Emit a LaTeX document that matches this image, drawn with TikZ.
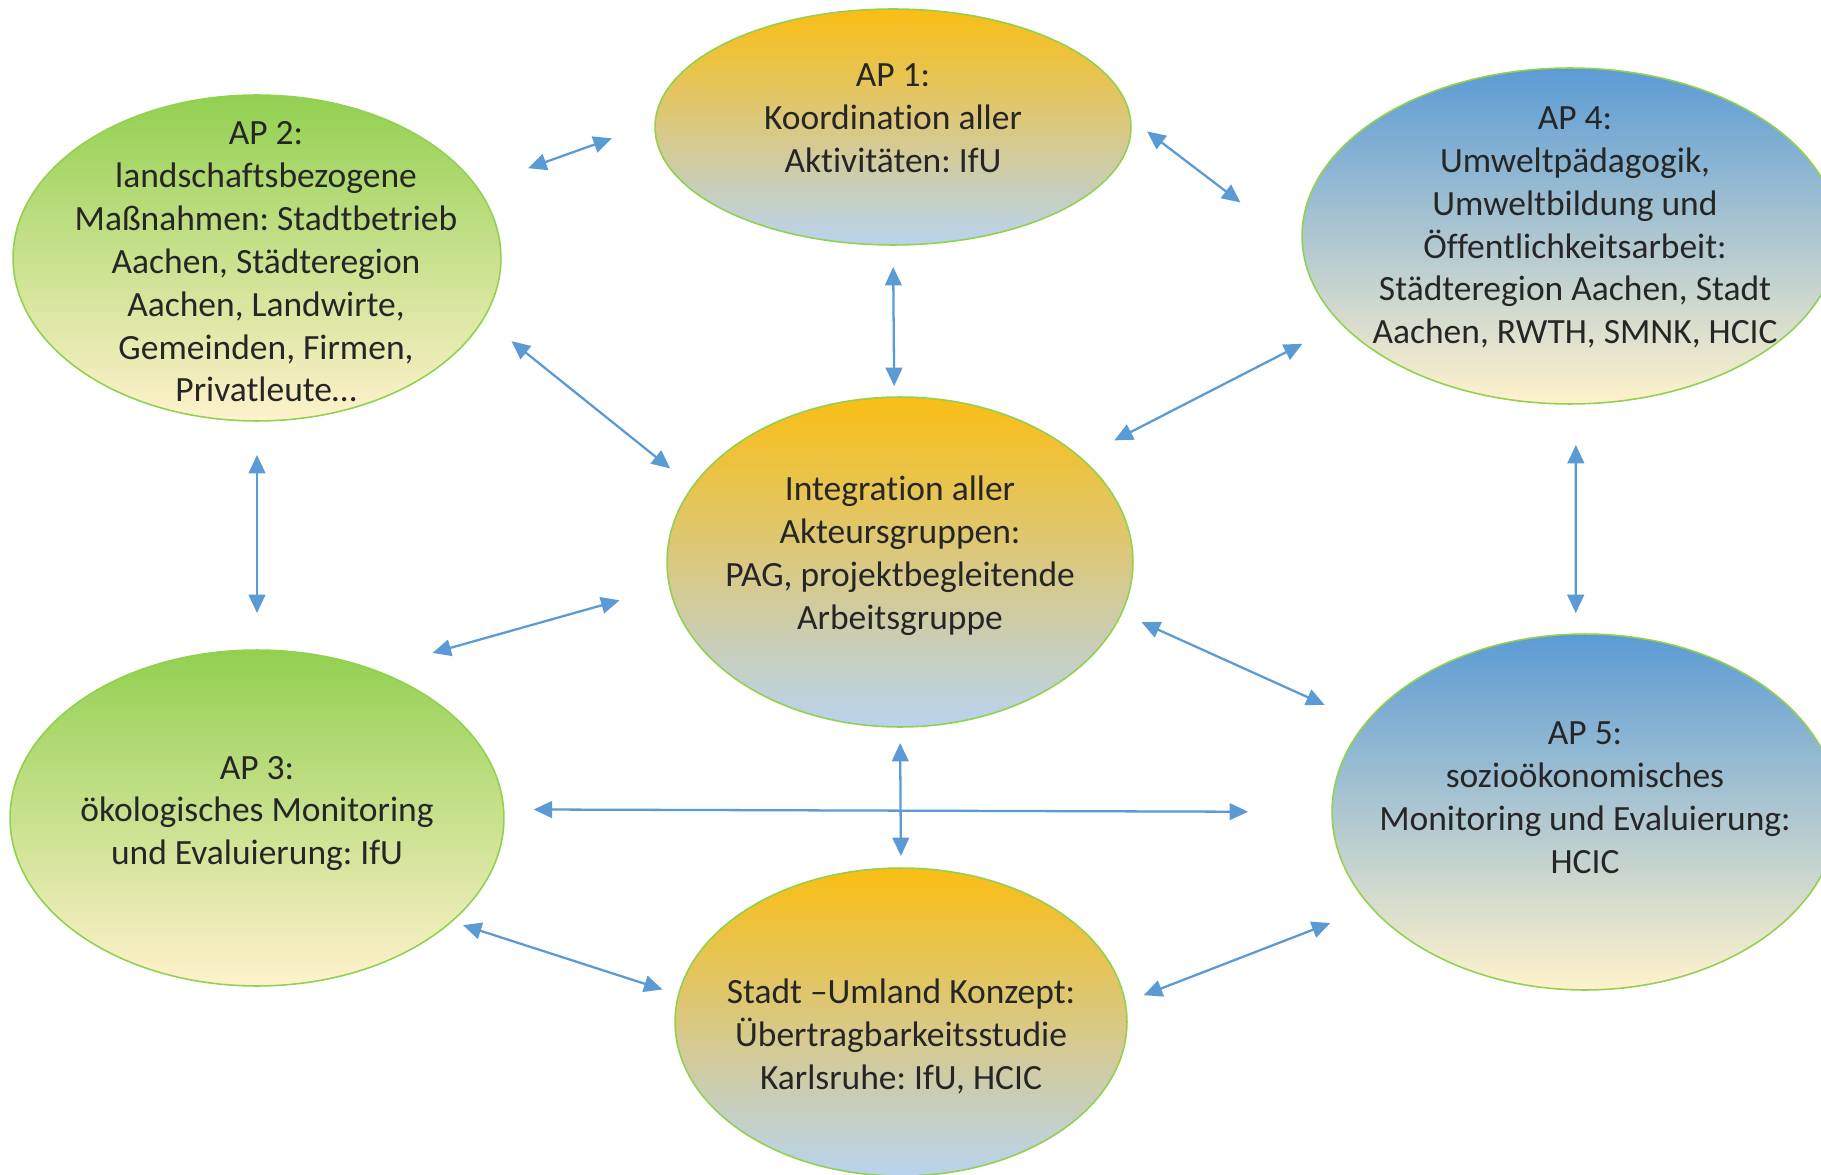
\documentclass[tikz,border=0pt]{standalone}
\usepackage{fontspec}
\setmainfont{Carlito}[Ligatures=NoCommon]
\usepackage{tikz}
\usetikzlibrary{arrows.meta,shapes.geometric}
\definecolor{apgreen}{RGB}{146,208,80}
\definecolor{apgold}{RGB}{250,190,20}
\definecolor{apsky}{RGB}{185,211,238}
\definecolor{apcream}{RGB}{255,242,204}
\definecolor{apblue}{RGB}{91,155,213}
\definecolor{linkblue}{RGB}{91,155,213}
\frenchspacing

\begin{document}
\begin{tikzpicture}[x=0.02cm, y=-0.02cm,
  apnode/.style={ellipse, draw=apgreen, line width=0.9pt, inner sep=0pt, outer sep=0pt},
  sunsky/.style={top color=apgold, bottom color=apsky},
  meadow/.style={top color=apgreen, bottom color=apcream},
  skyfield/.style={top color=apblue, bottom color=apcream},
  aptext/.style={align=center, text=black!85, font=\fontsize{20.2}{24.4}\selectfont},
  link/.style={<->, >={Triangle[length=10.5pt, width=9.5pt]}, draw=linkblue, line width=1.3pt}]

  \useasboundingbox (0,0) rectangle (1821,1175);

  % Work packages
  \node[apnode, sunsky, minimum width=9.52cm, minimum height=4.72cm,
    label={[aptext, yshift=0.18cm]center:{AP 1:\\Koordination aller\\Aktivitäten: IfU}}] (ap1) at (893,127) {};
  \node[apnode, meadow, minimum width=9.76cm, minimum height=6.52cm,
    label={[aptext, xshift=0.18cm, yshift=-0.08cm]center:{AP 2:\\landschaftsbezogene\\Maßnahmen: Stadtbetrieb\\Aachen, Städteregion\\Aachen, Landwirte,\\Gemeinden, Firmen,\\Privatleute…}}] (ap2) at (257,258) {};
  \node[apnode, skyfield, minimum width=10.72cm, minimum height=6.72cm,
    label={[aptext, xshift=0.1cm, yshift=0.17cm]center:{AP 4:\\Umweltpädagogik,\\Umweltbildung und\\Öffentlichkeitsarbeit:\\Städteregion Aachen, Stadt\\Aachen, RWTH, SMNK, HCIC}}] (ap4) at (1570,236) {};
  \node[apnode, sunsky, minimum width=9.32cm, minimum height=6.6cm,
    label={[aptext, yshift=0.13cm]center:{Integration aller\\Akteursgruppen:\\PAG, projektbegleitende\\Arbeitsgruppe}}] (int) at (900,562) {};
  \node[apnode, meadow, minimum width=9.88cm, minimum height=6.72cm,
    label={[aptext, yshift=0.09cm]center:{AP 3:\\ökologisches Monitoring\\und Evaluierung: IfU}}] (ap3) at (257,818) {};
  \node[apnode, skyfield, minimum width=10.12cm, minimum height=7.12cm,
    label={[aptext, yshift=0.28cm]center:{AP 5:\\sozioökonomisches\\Monitoring und Evaluierung:\\HCIC}}] (ap5) at (1585,812) {};
  \node[apnode, sunsky, minimum width=9.04cm, minimum height=6.16cm,
    label={[aptext, yshift=-0.29cm]center:{Stadt –Umland Konzept:\\Übertragbarkeitsstudie\\Karlsruhe: IfU, HCIC}}] (bot) at (901,1022) {};

  % Links
  \draw[link, shorten <=1.10cm, shorten >=0.92cm] (ap2.18)    -- (ap1.179);
  \draw[link, shorten <=0.42cm, shorten >=1.57cm] (ap1.2)     -- (ap4.183);
  \draw[link, shorten <=0.44cm, shorten >=0.22cm] (ap1.south) -- (int.92);
  \draw[link, shorten <=0.72cm, shorten >=0.58cm] (ap2.345)   -- (int.160);
  \draw[link, shorten <=0.88cm, shorten >=0.76cm] (ap4.201)   -- (int.30);
  \draw[link, shorten <=0.68cm, shorten >=0.74cm] (ap2.south) -- (ap3.north);
  \draw[link, shorten <=1.24cm, shorten >=1.04cm] (ap3.52)    -- (int.186);
  \draw[link, shorten <=0.82cm, shorten >=0.42cm] (ap4.272)   -- (ap5.93);
  \draw[link, shorten <=0.44cm, shorten >=0.90cm] (int.347)   -- (ap5.158);
  \draw[link, shorten <=0.60cm, shorten >=1.68cm] (ap3.2)     -- (ap5.west);
  \draw[link, shorten <=0.32cm, shorten >=0.24cm] (int.south) -- (bot.north);
  \draw[link, shorten <=0.24cm, shorten >=0.34cm] (ap3.332)   -- (bot.173);
  \draw[link, shorten <=0.40cm, shorten >=0.88cm] (bot.5)     -- (ap5.204);
\end{tikzpicture}
\end{document}
